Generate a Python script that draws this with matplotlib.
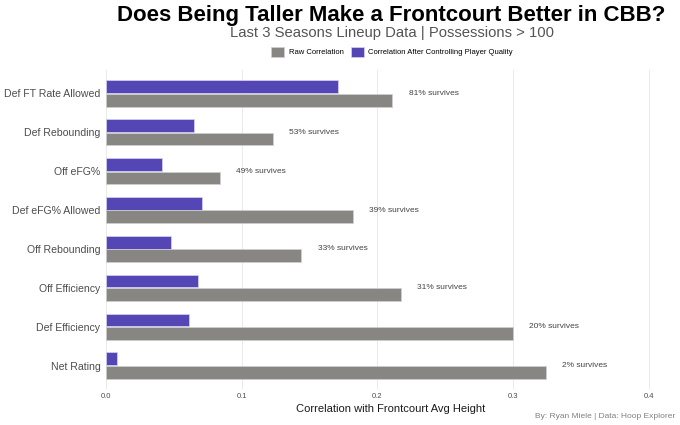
import matplotlib.pyplot as plt
import numpy as np

plt.rcParams['font.family'] = ['Liberation Sans', 'DejaVu Sans']

# categories listed top to bottom
metrics = ["Def FT Rate Allowed", "Def Rebounding", "Off eFG%", "Def eFG% Allowed",
           "Off Rebounding", "Off Efficiency", "Def Efficiency", "Net Rating"]
raw_corr = [0.211, 0.123, 0.084, 0.182, 0.144, 0.217, 0.300, 0.324]
ctrl_corr = [0.171, 0.065, 0.041, 0.071, 0.048, 0.068, 0.061, 0.008]
survive_pct = [81, 53, 49, 39, 33, 31, 20, 2]

gray = "#878683"
purple = "#5446b4"

fig = plt.figure(figsize=(6.8, 4.25), dpi=100)
ax = fig.add_axes([106 / 680, 1 - 389 / 425, (676 - 106) / 680, (389 - 70) / 425])

y = np.arange(len(metrics))
h = 0.33
ax.barh(y - h / 2 - 0.01, ctrl_corr, height=h, color=purple, edgecolor="#d8d4f0", linewidth=0.5,
        label="Correlation After Controlling Player Quality", zorder=3)
ax.barh(y + h / 2 + 0.01, raw_corr, height=h, color=gray, edgecolor="#d0d0d0", linewidth=0.5,
        label="Raw Correlation", zorder=3)

for i, (r, p) in enumerate(zip(raw_corr, survive_pct)):
    ax.text(r + 0.012, i, "%d%% survives" % p, va="center", ha="left", fontsize=6, color="#444444")

ax.set_xlim(0, 0.42)
ax.set_ylim(len(metrics) - 0.4, -0.6)
ax.set_yticks(y)
ax.set_yticklabels(metrics, fontsize=7.6, color="#4d4d4d")
ax.set_xticks([0, 0.1, 0.2, 0.3, 0.4])
ax.set_xticklabels(["0.0", "0.1", "0.2", "0.3", "0.4"], fontsize=5.5, color="#4d4d4d")
ax.tick_params(axis="y", length=0, pad=4)
ax.tick_params(axis="x", length=0, pad=3)
ax.grid(axis="x", color="#e6e6e6", linewidth=0.6, zorder=0)
for s in ax.spines.values():
    s.set_visible(False)
ax.set_xlabel("Correlation with Frontcourt Avg Height", fontsize=8, color="#1a1a1a", labelpad=3)

handles, labels = ax.get_legend_handles_labels()
fig.legend(handles[::-1], labels[::-1], loc="center", bbox_to_anchor=(392 / 680, 1 - 52 / 425),
           ncol=2, frameon=False, fontsize=5.5, handlelength=1.7, handleheight=1.7,
           columnspacing=0.9, handletextpad=0.6)

fig.text(391 / 680, 1 - 15 / 425, "Does Being Taller Make a Frontcourt Better in CBB?",
         ha="center", va="center", fontsize=16, fontweight="bold", color="black")
fig.text(392 / 680, 1 - 33 / 425, "Last 3 Seasons Lineup Data | Possessions > 100",
         ha="center", va="center", fontsize=10.7, color="#555555")
fig.text(675 / 680, 1 - 417 / 425, "By: Ryan Miele | Data: Hoop Explorer",
         ha="right", va="center", fontsize=6, color="#808080")

fig.savefig("out.png", dpi=100, facecolor="white")
